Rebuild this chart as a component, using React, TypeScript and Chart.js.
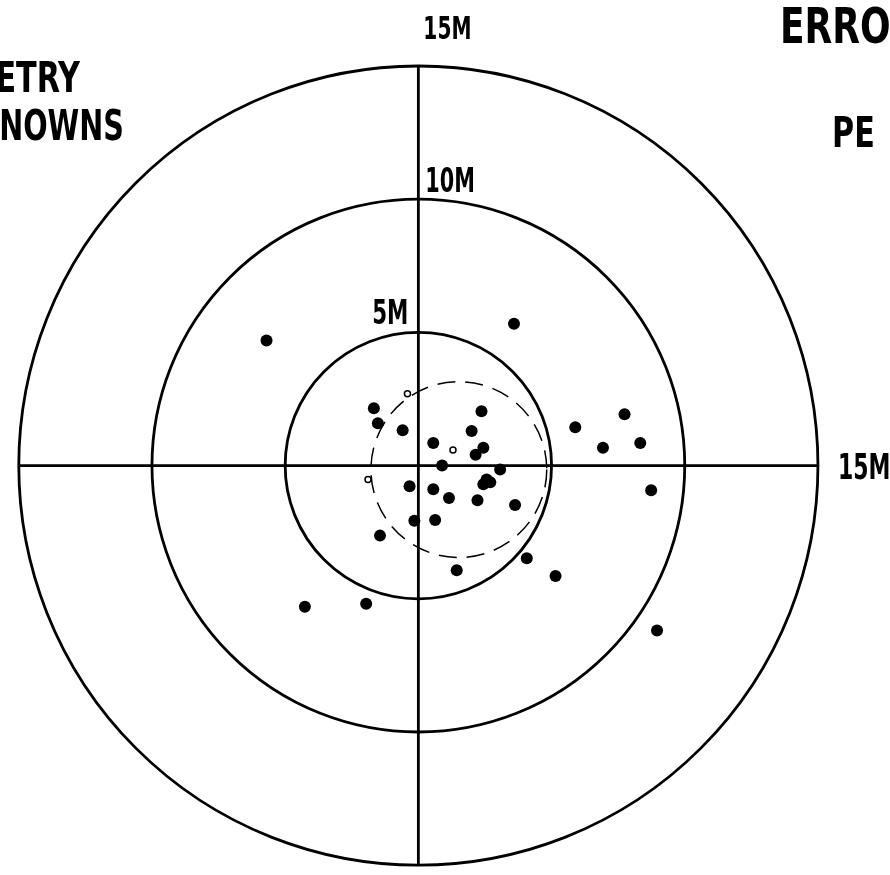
import React, { useEffect, useRef } from 'react';
import { Chart, registerables } from 'chart.js';

Chart.register(...registerables);

// Impact points (metres, east / north of aim point)
const hitX = [3.59, -5.70, -1.67, -1.52, -0.59, 2.37, 2.00, 5.89, 7.74, 6.93, 8.33, 0.56, 2.44, 2.15, 0.89, 3.07, 2.56, 2.44, 2.70, -0.33, 0.56, 1.15, 2.22, 3.63, 8.74, -0.15, 0.63, -1.44, 4.07, 1.44, 5.15, -4.26, -1.96, 8.96];
const hitY = [5.33, 4.70, 2.15, 1.59, 1.33, 2.04, 1.30, 1.44, 1.93, 0.67, 0.85, 0.85, 0.67, 0.41, 0.00, -0.15, -0.52, -0.70, -0.63, -0.78, -0.89, -1.22, -1.30, -1.48, -0.93, -2.07, -2.04, -2.63, -3.48, -3.93, -4.15, -5.30, -5.19, -6.19];

// Small open marks
const markX = [-0.41, -1.89, 1.30];
const markY = [2.70, -0.52, 0.59];

// Range rings
const ringRadii = [5, 10, 15];
const ringLabels = ['5M', '10M', '15M'];

// Dashed error circle
const cepCenterX = 1.52;
const cepCenterY = -0.15;
const cepRadius = 3.3;

// Visible extent of the plane (metres)
const xRange = [-15.48, 17.48];
const yRange = [-15.15, 17.26];

const FONT = "'Liberation Sans Narrow', 'DejaVu Sans Condensed', 'Noto Sans', sans-serif";

function drawText(ctx: CanvasRenderingContext2D, text: string, x: number, y: number, size: number, align: CanvasTextAlign, sx = 0.8) {
  ctx.save();
  ctx.translate(x, y);
  ctx.scale(sx, 1);
  ctx.font = `bold ${size}px ${FONT}`;
  ctx.textAlign = align;
  ctx.textBaseline = 'alphabetic';
  ctx.fillStyle = '#000';
  ctx.fillText(text, 0, 0);
  ctx.restore();
}

const targetPlugin = {
  id: 'target',
  beforeDatasetsDraw(chart: any) {
    const { ctx, scales } = chart;
    const x = scales.x, y = scales.y;
    const cx = x.getPixelForValue(0);
    const cy = y.getPixelForValue(0);
    const unit = x.getPixelForValue(1) - cx;
    ctx.save();
    ctx.strokeStyle = '#000';
    ctx.lineWidth = 2.8;
    ringRadii.forEach((r) => {
      ctx.beginPath();
      ctx.arc(cx, cy, r * unit, 0, Math.PI * 2);
      ctx.stroke();
    });
    const R = Math.max(...ringRadii) * unit;
    ctx.beginPath();
    ctx.moveTo(cx - R, cy);
    ctx.lineTo(cx + R, cy);
    ctx.moveTo(cx, cy - R);
    ctx.lineTo(cx, cy + R);
    ctx.stroke();

    ctx.setLineDash([18, 10]);
    ctx.lineWidth = 1.5;
    ctx.beginPath();
    ctx.arc(x.getPixelForValue(cepCenterX), y.getPixelForValue(cepCenterY), cepRadius * unit, 0, Math.PI * 2);
    ctx.stroke();
    ctx.restore();
  },
  afterDatasetsDraw(chart: any) {
    const { ctx, scales } = chart;
    const x = scales.x, y = scales.y;
    const cx = x.getPixelForValue(0);
    const cy = y.getPixelForValue(0);
    const unit = x.getPixelForValue(1) - cx;
    // ring labels
    drawText(ctx, ringLabels[0], cx - 10, cy - ringRadii[0] * unit - 8, 34, 'right', 0.7);
    drawText(ctx, ringLabels[1], cx + 7, cy - ringRadii[1] * unit - 7, 34, 'left', 0.68);
    drawText(ctx, ringLabels[2], cx + 5, cy - ringRadii[2] * unit - 27, 32, 'left', 0.7);
    drawText(ctx, ringLabels[2], cx + ringRadii[2] * unit + 20, cy + 13, 36, 'left', 0.68);
    // titles (partly outside the frame)
    drawText(ctx, 'GEOMETRY', 80, 92, 42, 'right');
    drawText(ctx, 'UNKNOWNS', 124, 140, 42, 'right', 0.76);
    drawText(ctx, 'ERROR', 780, 43, 50, 'left');
    drawText(ctx, 'PE', 832, 147, 42, 'left');
  },
};

export default function App() {
  const ref = useRef<HTMLCanvasElement>(null);
  useEffect(() => {
    if (!ref.current) return;
    const chart = new Chart(ref.current, {
      type: 'scatter',
      data: {
        datasets: [
          {
            label: 'hits',
            data: hitX.map((v, i) => ({ x: v, y: hitY[i] })),
            pointRadius: 6,
            pointHoverRadius: 6,
            backgroundColor: '#000',
            borderColor: '#000',
            borderWidth: 0,
          },
          {
            label: 'marks',
            data: markX.map((v, i) => ({ x: v, y: markY[i] })),
            pointRadius: 3,
            backgroundColor: '#fff',
            borderColor: '#000',
            borderWidth: 1.5,
          },
        ],
      },
      options: {
        animation: false,
        responsive: false,
        devicePixelRatio: 1,
        layout: { padding: 0 },
        plugins: { legend: { display: false }, tooltip: { enabled: false } },
        scales: {
          x: { type: 'linear', min: xRange[0], max: xRange[1], display: false },
          y: { type: 'linear', min: yRange[0], max: yRange[1], display: false },
        },
      },
      plugins: [targetPlugin],
    });
    return () => chart.destroy();
  }, []);
  return (
    <div style={{ position: 'fixed', left: 0, top: 0, width: 890, height: 875, background: '#fff' }}>
      <canvas ref={ref} width={890} height={875} style={{ display: 'block', width: 890, height: 875 }} />
    </div>
  );
}
